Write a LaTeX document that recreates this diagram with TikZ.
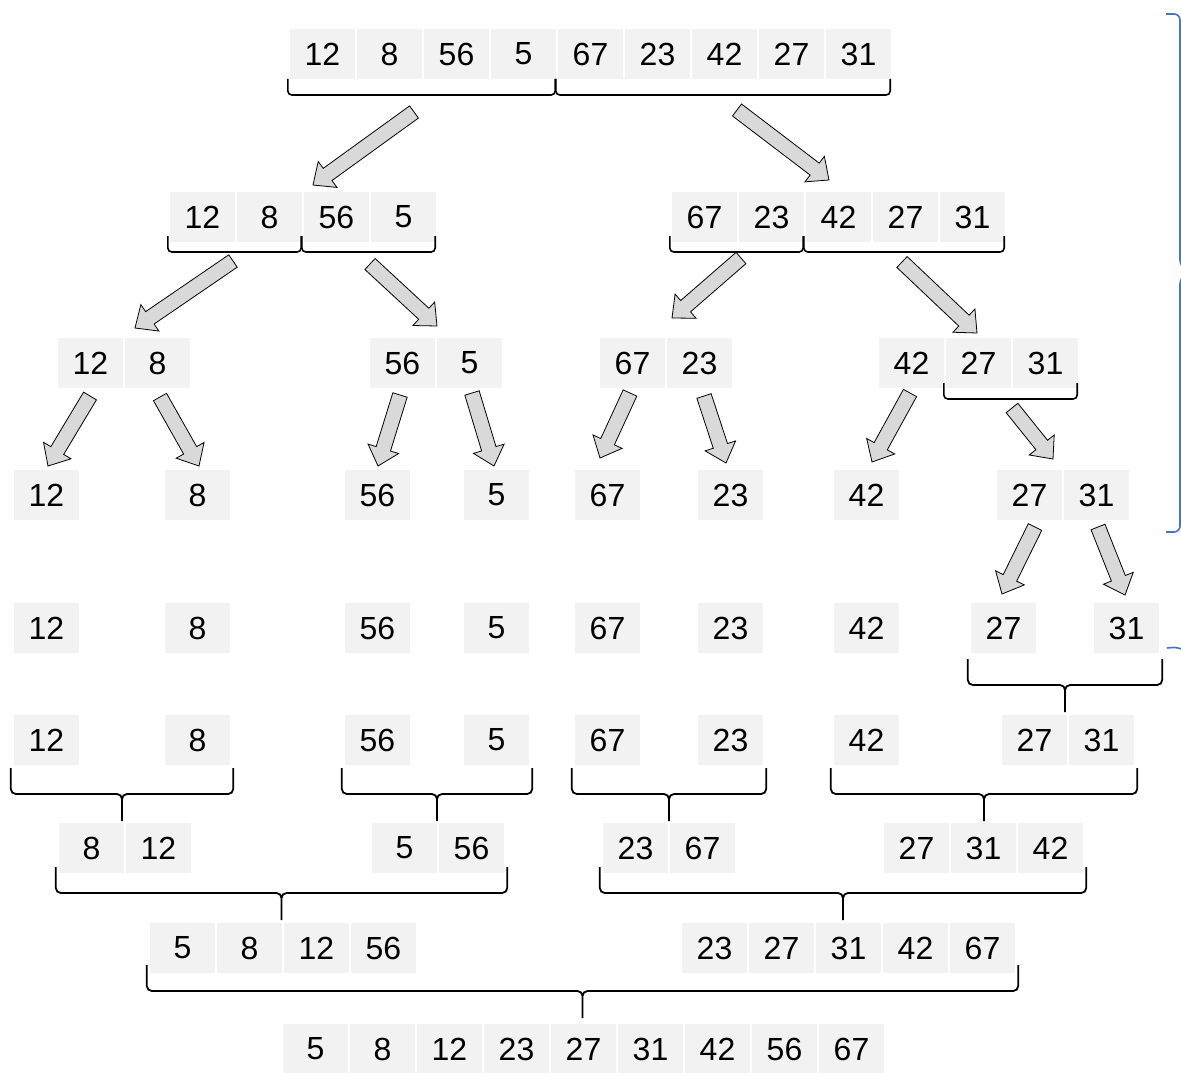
\documentclass[tikz,border=0pt]{standalone}
\usepackage{fontspec}
\setmainfont{Liberation Sans}
\usetikzlibrary{calc}
\definecolor{cellgray}{HTML}{F2F2F2}
\definecolor{arrowgray}{HTML}{D9D9D9}
\definecolor{bracketblue}{HTML}{4472C4}
% one row of adjacent cells: name, left x, centre y, values
\newcommand{\cellrow}[4]{%
  \foreach \v [count=\i] in {#4} {
    \node[cell] (#1-\i) at ({#2+32.5+(\i-1)*67},#3) {\v};
  }%
}
% open bracket under a group that is split: first node, last node, y of the bar
\newcommand{\splitbrace}[3]{%
  \draw[splitln] let \p1=(#1.west), \p2=(#2.east) in
    (\x1-2pt,-#3pt+16pt) -- (\x1-2pt,-#3pt) -- (\x2-1pt,-#3pt) -- (\x2-1pt,-#3pt+16pt);
}
% curly brace under groups that are merged: first node, last node, y of the bar
\newcommand{\mergebrace}[3]{%
  \draw[joinln] let \p1=(#1.west), \p2=(#2.east), \p3=($(\p1)!.5!(\p2)$) in
    (\x1-3pt,-#3pt+26pt) -- (\x1-3pt,-#3pt) -- (\x3,-#3pt) -- (\x3,-#3pt-27pt)
    (\x3,-#3pt-27pt) -- (\x3,-#3pt) -- (\x2+3pt,-#3pt) -- (\x2+3pt,-#3pt+26pt);
}
% block arrow: tail, tip
\newcommand{\dividearrow}[2]{%
  \coordinate (tail) at (#1);
  \coordinate (tip) at (#2);
  \coordinate (neck) at ($(tip)!18pt!(tail)$);
  \draw[splitarrow] ($(tail)!7.5pt!90:(tip)$) -- ($(neck)!7.5pt!90:(tip)$)
    -- ($(neck)!16pt!90:(tip)$) -- (tip) -- ($(neck)!16pt!-90:(tip)$)
    -- ($(neck)!7.5pt!-90:(tip)$) -- ($(tail)!7.5pt!-90:(tip)$) -- cycle;
}
\begin{document}
\begin{tikzpicture}[x=1pt, y=-1pt,
  cell/.style={fill=cellgray, minimum width=65pt, minimum height=50pt, inner sep=0pt, font=\fontsize{32}{38}\selectfont},
  splitln/.style={black, line width=1.6pt, rounded corners=4pt},
  joinln/.style={black, line width=1.8pt, rounded corners=5pt},
  splitarrow/.style={fill=arrowgray, draw=black, line width=0.8pt, line join=miter},
  bluebrace/.style={draw=bracketblue, line width=1.6pt, rounded corners=6pt}]
  \useasboundingbox (0,0) rectangle (1181,1073);

  % splitting
  \cellrow{a}{290}{54}{12,8,56,5,67,23,42,27,31}
  \cellrow{bl}{170}{217}{12,8,56,5}
  \cellrow{br}{672}{217}{67,23,42,27,31}
  \cellrow{c1}{58}{363}{12,8}
  \cellrow{c2}{370}{363}{56,5}
  \cellrow{c3}{600}{363}{67,23}
  \cellrow{c4}{879}{363}{42,27,31}
  \foreach \px/\v [count=\k] in {14/12,165/8,345/56,464/5,575/67,698/23,834/42} {
    \node[cell] (d\k) at (\px+32.5,495) {\v};
    \node[cell] (e\k) at (\px+32.5,628) {\v};
    \node[cell] (f\k) at (\px+32.5,740) {\v};
  }
  \cellrow{d8}{997}{495}{27,31}
  \cellrow{e8}{971}{628}{27}
  \cellrow{e9}{1094}{628}{31}
  % merging
  \cellrow{f8}{1002}{740}{27,31}
  \cellrow{g1}{59}{848}{8,12}
  \cellrow{g2}{372}{848}{5,56}
  \cellrow{g3}{603}{848}{23,67}
  \cellrow{g4}{884}{848}{27,31,42}
  \cellrow{h1}{150}{948}{5,8,12,56}
  \cellrow{h2}{682}{948}{23,27,31,42,67}
  \cellrow{k}{283}{1049}{5,8,12,23,27,31,42,56,67}

  \splitbrace{a-1}{a-4}{95}
  \splitbrace{a-5}{a-9}{95}
  \splitbrace{bl-1}{bl-2}{252}
  \splitbrace{bl-3}{bl-4}{252}
  \splitbrace{br-1}{br-2}{252}
  \splitbrace{br-3}{br-5}{252}
  \splitbrace{c4-2}{c4-3}{399}

  \foreach \ta/\tb/\ha/\hb in {414/112/313/185, 737/110/829/180,
      233/261/135/328, 370/264/437/326, 741/258/672/318, 902/262/977/333,
      90/396/48/466, 160/397/199/466, 400/395/378/466, 472/393/494/466,
      630/393/600/458, 704/396/726/463, 910/393/872/462, 1012/408/1053/459,
      1035/527/1002/594, 1098/527/1125/595} {
    \dividearrow{\ta,\tb}{\ha,\hb}
  }

  \mergebrace{e8-1}{e9-1}{685}
  \mergebrace{f1}{f2}{794}
  \mergebrace{f3}{f4}{794}
  \mergebrace{f5}{f6}{794}
  \mergebrace{f7}{f8-2}{794}
  \mergebrace{g1-1}{g2-2}{893}
  \mergebrace{g3-1}{g4-3}{893}
  \mergebrace{h1-1}{h2-5}{991}

  % blue brace at the right edge
  \draw[bluebrace] (1166,14) -- (1180,14) -- (1180,266) -- (1190,272)
    (1190,272) -- (1180,278) -- (1180,532) -- (1166,532);
  \draw[bluebrace] (1167,648) -- (1179,647) -- (1186,652);
\end{tikzpicture}
\end{document}
